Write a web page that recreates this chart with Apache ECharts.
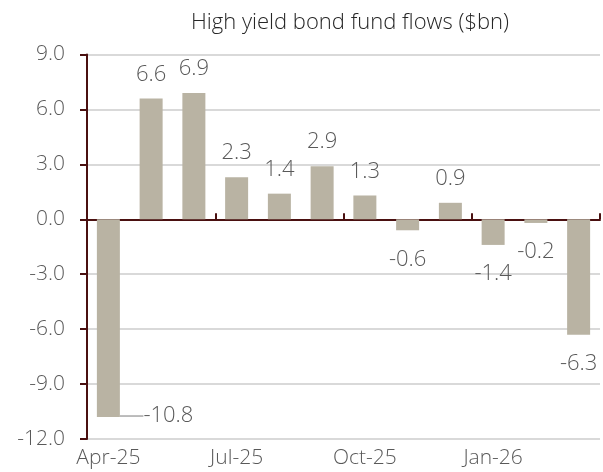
<!DOCTYPE html>
<html>
<head>
<meta charset="utf-8">
<script src="https://cdn.jsdelivr.net/npm/echarts@6/dist/echarts.min.js"></script>
<style>
  html, body { margin: 0; padding: 0; background: #fff; }
  #chart { width: 603px; height: 472px; }
</style>
</head>
<body>
<div id="chart"></div>
<script>
// monthly high yield bond fund flows, $bn
var months = ['Apr-25', 'May-25', 'Jun-25', 'Jul-25', 'Aug-25', 'Sep-25',
              'Oct-25', 'Nov-25', 'Dec-25', 'Jan-26', 'Feb-26', 'Mar-26'];
var flows = [-10.8, 6.6, 6.9, 2.3, 1.4, 2.9, 1.3, -0.6, 0.9, -1.4, -0.2, -6.3];
var yTicks = [-12, -9, -6, -3, 0, 3, 6, 9];

var axisColor = '#4a1010';
var textColor = '#595959';
var font = '"Open Sans", "Noto Sans", sans-serif';

var chart = echarts.init(document.getElementById('chart'));

// negative bars get their label under the bar
var barData = flows.map(function (v, i) {
  var item = {
    value: v,
    label: { position: v < 0 ? 'bottom' : 'top', distance: v < 0 ? 18 : 13 },
    labelLine: { show: i == 0 }
  };
  if (i == flows.length - 1) {
    item.label.offset = [-4, -19];
  }
  return item;
});

var option = {
  animation: false,
  title: {
    text: 'High yield bond fund flows ($bn)',
    left: 345,
    textAlign: 'center',
    top: 7,
    textStyle: { fontFamily: font, fontWeight: 300, fontSize: 22, color: '#262626' }
  },
  grid: { left: 87, right: 3, top: 54.5, bottom: 33, containLabel: false },
  xAxis: [
    {
      type: 'category',
      data: months,
      position: 'bottom',
      axisLine: { onZero: true, lineStyle: { color: axisColor, width: 2 } },
      axisTick: { show: true, inside: true, length: 6, interval: 2, lineStyle: { color: axisColor, width: 2 } },
      axisLabel: { show: false },
      splitLine: { show: false }
    },
    {
      type: 'category',
      data: months,
      position: 'bottom',
      axisLine: { show: false, onZero: false },
      axisTick: { show: false },
      axisLabel: {
        interval: 2, margin: 9,
        fontFamily: font, fontWeight: 300, fontSize: 21, color: textColor
      }
    }
  ],
  yAxis: {
    type: 'value',
    min: yTicks[0],
    max: yTicks[yTicks.length - 1],
    interval: 3,
    axisLine: { show: true, lineStyle: { color: axisColor, width: 2 } },
    axisTick: { show: true, length: 7, lineStyle: { color: axisColor, width: 2 } },
    axisLabel: {
      margin: 22,
      formatter: function (v) { return v.toFixed(1); },
      fontFamily: font, fontWeight: 300, fontSize: 21, color: textColor
    },
    splitLine: { lineStyle: { color: '#d9d9d9', width: 2 } }
  },
  series: [
    {
      type: 'bar',
      xAxisIndex: 0,
      data: barData,
      barWidth: 23,
      itemStyle: { color: '#b9b3a3' },
      label: {
        show: true,
        formatter: function (p) { return p.value.toFixed(1); },
        fontFamily: font, fontWeight: 300, fontSize: 22, color: textColor
      },
      labelLine: { show: false, lineStyle: { color: '#a6a6a6', width: 1.5 } },
      labelLayout: function (p) {
        // the biggest outflow is written beside its bar with a leader line
        if (p.dataIndex == 0) {
          return { dx: 60, dy: -30 };
        }
        return {};
      }
    }
  ]
};

chart.setOption(option);
</script>
</body>
</html>
